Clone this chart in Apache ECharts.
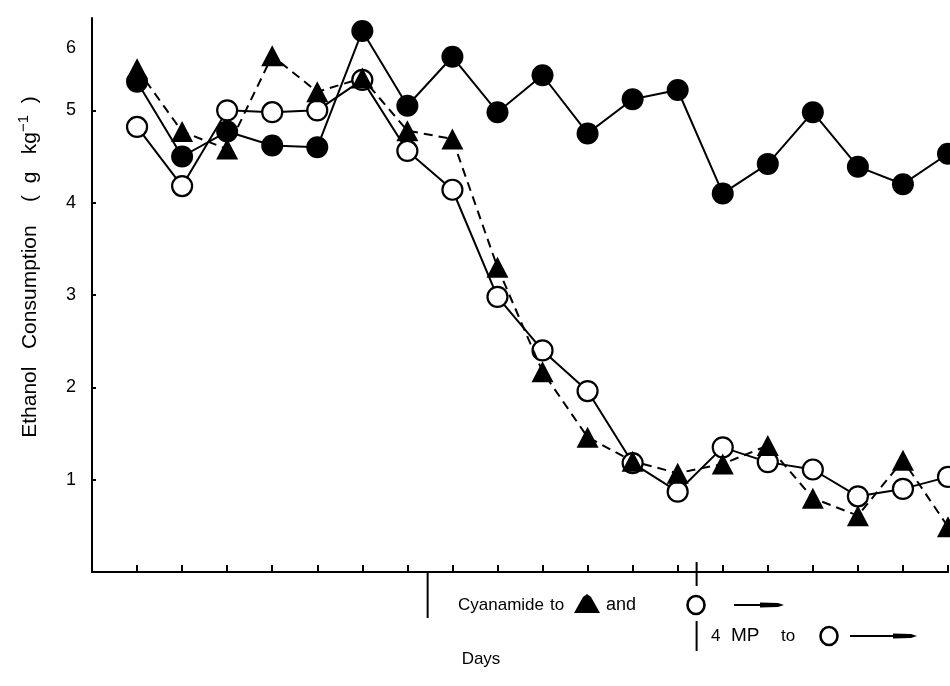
<!DOCTYPE html>
<html><head><meta charset="utf-8">
<script src="https://cdn.jsdelivr.net/npm/echarts@6/dist/echarts.min.js"></script>
<style>html,body{margin:0;padding:0;background:#fff}#c{width:950px;height:686px}</style>
</head><body><div id="c"></div>
<script>
// Days 1..19
const days = [1,2,3,4,5,6,7,8,9,10,11,12,13,14,15,16,17,18,19];
// Filled circles (controls), solid line
const filledCircle = [5.31,4.50,4.77,4.62,4.60,5.86,5.05,5.58,4.98,5.38,4.75,5.12,5.22,4.10,4.42,4.98,4.39,4.20,4.53];
// Filled triangles (cyanamide), dashed line
const filledTriangle = [5.45,4.77,4.58,5.59,5.20,5.35,4.78,4.69,3.30,2.17,1.46,1.20,1.07,1.17,1.37,0.80,0.61,1.21,0.49];
// Open circles (cyanamide + 4 MP), solid line
const openCircle = [4.82,4.18,5.00,4.98,5.00,5.33,4.56,4.14,2.98,2.40,1.96,1.18,0.87,1.35,1.19,1.11,0.82,0.90,1.03];
// Y tick labels as printed (the "6" sits lower than a linear scale would put it)
const yTickValues = [1,2,3,4,5,5.68];
const yTickLabels = ['1','2','3','4','5','6'];
const yTickMarks = [1,2,3,4,5];
// Treatment start markers (in day units)
const annotDays = [7.45, 13.42];

const FONT = 'Liberation Sans, Arial, sans-serif';
const chart = echarts.init(document.getElementById('c'), null, {renderer:'canvas'});
const pair = arr => days.map((d,i)=>[d, arr[i]]);

chart.setOption({
  animation:false,
  backgroundColor:'#fff',
  grid:{left:92,right:2,top:18,bottom:114},
  xAxis:{type:'value',min:0,max:19,interval:1,
    axisLine:{lineStyle:{color:'#000',width:2}},
    axisTick:{inside:true,length:7,customValues:days,lineStyle:{color:'#000',width:2}},
    axisLabel:{show:false},splitLine:{show:false}},
  yAxis:{type:'value',min:0,max:6,
    axisLine:{show:true,lineStyle:{color:'#000',width:2}},
    axisTick:{show:true,inside:true,length:4,customValues:yTickMarks,lineStyle:{color:'#000',width:2}},
    axisLabel:{customValues:yTickValues,color:'#000',fontSize:18,fontFamily:FONT,margin:16,
      formatter:v=>{const i=yTickValues.findIndex(t=>Math.abs(t-v)<1e-6);return i>=0?yTickLabels[i]:'';}},
    splitLine:{show:false}},
  series:[
    {type:'line',data:pair(filledCircle),symbol:'circle',symbolSize:22,clip:false,z:2,
      itemStyle:{color:'#000'},lineStyle:{color:'#000',width:2}},
    {type:'line',data:pair(openCircle),symbol:'circle',symbolSize:20,clip:false,z:3,
      itemStyle:{color:'#fff',borderColor:'#000',borderWidth:2.2},lineStyle:{color:'#000',width:2}},
    {type:'line',data:pair(filledTriangle),symbol:'triangle',symbolSize:[22,21],clip:false,z:4,
      itemStyle:{color:'#000'},lineStyle:{color:'#000',width:2,type:[9,6]}}
  ]
});

const ax0 = chart.convertToPixel({yAxisIndex:0},0);
const x1 = chart.convertToPixel({xAxisIndex:0},annotDays[0]);
const x2 = chart.convertToPixel({xAxisIndex:0},annotDays[1]);
const ls = {stroke:'#000',lineWidth:2};
const tf = '17px '+FONT;
function arrow(xa,xb,y){
  return [
    {type:'line',shape:{x1:xa,y1:y,x2:xb-14,y2:y},style:{stroke:'#000',lineWidth:2}},
    {type:'polygon',shape:{points:[[xb-24,y-2.5],[xb-6,y-2],[xb,y],[xb-6,y+2],[xb-24,y+2.5]]},style:{fill:'#000'}}
  ];
}
function word(x,y,t,f){
  return {type:'text',x:x,y:y,style:{text:t,font:f||tf,fill:'#000',verticalAlign:'middle',textAlign:'left'}};
}
function ring(cx,cy){
  return {type:'ellipse',shape:{cx:cx,cy:cy,rx:8.5,ry:9},style:{fill:'#fff',stroke:'#000',lineWidth:2.6}};
}
const r1 = ax0+33, r2 = ax0+64;
chart.setOption({graphic:[
  {type:'line',shape:{x1:x1,y1:ax0,x2:x1,y2:ax0+46},style:ls},
  {type:'line',shape:{x1:x2,y1:ax0-10,x2:x2,y2:ax0+14},style:ls},
  {type:'line',shape:{x1:x2,y1:ax0+49,x2:x2,y2:ax0+79},style:ls},
  word(458,r1,'Cyanamide'),
  word(550,r1,'to'),
  {type:'polygon',shape:{points:[[574,r1+8],[583,r1-8],[587,r1-11],[591,r1-8],[600,r1+8]]},style:{fill:'#000'}},
  word(606,r1,'and','18px '+FONT),
  ring(696,r1),
  ...arrow(734,784,r1),
  word(711,r2,'4'),
  word(731,r2,'MP','19px '+FONT),
  word(781,r2,'to'),
  ring(829,r2),
  ...arrow(850,917,r2),
  {type:'text',x:481,y:659,style:{text:'Days',font:'17px '+FONT,fill:'#000',verticalAlign:'middle',textAlign:'center'}},
  {type:'text',x:30,y:267,rotation:Math.PI/2,style:{text:'Ethanol   Consumption    (  g   kg{sup|−1}  )',font:'21px '+FONT,fill:'#000',verticalAlign:'middle',textAlign:'center',
    rich:{sup:{fontSize:15,fontFamily:FONT,fill:'#000',verticalAlign:'bottom',padding:[0,0,12,0]}}}}
]});
</script>
</body></html>
